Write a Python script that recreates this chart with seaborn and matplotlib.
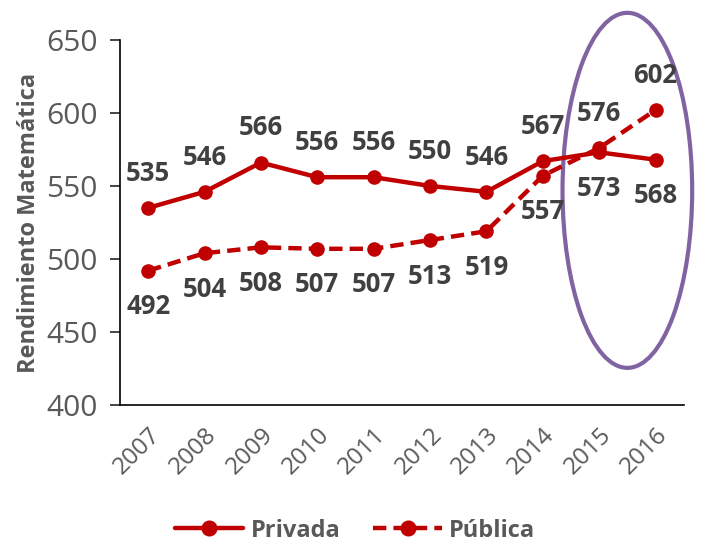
import pandas as pd
import numpy as np
import matplotlib.pyplot as plt
import seaborn as sns
from matplotlib.patches import Ellipse

years = [2007, 2008, 2009, 2010, 2011, 2012, 2013, 2014, 2015, 2016]
privada = [535, 546, 566, 556, 556, 550, 546, 567, 573, 568]
publica = [492, 504, 508, 507, 507, 513, 519, 557, 576, 602]
series_names = ["Privada", "Pública"]

df = pd.DataFrame({
    "Año": years * 2,
    "Rendimiento": privada + publica,
    "Sector": [series_names[0]] * len(years) + [series_names[1]] * len(years),
})

sns.set_style("white")
plt.rcParams['font.family'] = ['Open Sans', 'DejaVu Sans']

red = "#C00000"
gray = "#595959"
dark = "#404040"

fig = plt.figure(figsize=(7.1, 5.46), dpi=100)
ax = fig.add_axes([0.169, 0.258, 0.794, 0.669])

sns.lineplot(data=df, x="Año", y="Rendimiento", hue="Sector", style="Sector",
             palette=[red, red], dashes={"Privada": "", "Pública": (3, 1.6)},
             markers={"Privada": "o", "Pública": "o"}, markersize=10.5,
             markeredgewidth=0, linewidth=3.2, ax=ax, legend=True)

# data labels: higher value above, lower below
for i, yr in enumerate(years):
    a, b = privada[i], publica[i]
    hi, lo = max(a, b), min(a, b)
    ax.annotate(str(hi), (yr, hi), xytext=(0, 25), textcoords="offset points",
                ha="center", va="center", fontsize=18.5, fontweight="bold", color=dark)
    ax.annotate(str(lo), (yr, lo), xytext=(0, -26), textcoords="offset points",
                ha="center", va="center", fontsize=18.5, fontweight="bold", color=dark)

ax.set_xlim(2006.5, 2016.5)
ax.set_ylim(400, 650)
ax.set_yticks([400, 450, 500, 550, 600, 650])
ax.set_xticks(years)
ax.set_xticklabels([str(y) for y in years], rotation=45, ha="right",
                   rotation_mode="anchor", fontsize=17.5, color=gray)
ax.tick_params(axis="y", labelsize=21.5, labelcolor=gray, length=7, width=1.2,
               direction="out", left=True, pad=9)
ax.tick_params(axis="x", length=0, pad=13)

for s in ["top", "right"]:
    ax.spines[s].set_visible(False)
for s in ["left", "bottom"]:
    ax.spines[s].set_color("black")
    ax.spines[s].set_linewidth(1.2)

ax.set_xlabel("")
ax.set_ylabel("Rendimiento Matemática", fontsize=17, fontweight="bold", color=gray, labelpad=4)

ell = Ellipse((2015.5, 547), width=2.3, height=243, fill=False,
              edgecolor="#8064A2", linewidth=3, clip_on=False)
ax.add_patch(ell)

handles, labels = ax.get_legend_handles_labels()
ax.get_legend().remove()
leg = fig.legend(handles, labels, loc="center", bbox_to_anchor=(0.50, 0.028), ncol=2,
                 frameon=False, handlelength=2.9, columnspacing=1.4, handletextpad=0.3,
                 markerscale=1.1, prop={"weight": "bold", "size": 17})
for t in leg.get_texts():
    t.set_color(gray)

plt.savefig("out.png", dpi=100)
